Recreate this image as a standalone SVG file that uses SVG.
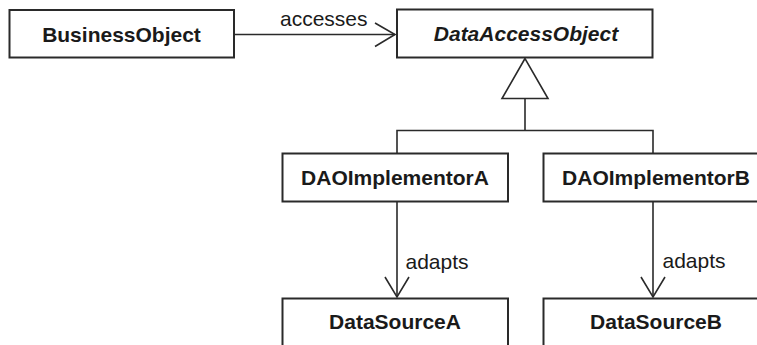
<svg xmlns="http://www.w3.org/2000/svg" width="757" height="345" viewBox="0 0 757 345">
<style>
.box{fill:#fff;stroke:#2a2a2a;stroke-width:2}
.t{font-family:"Liberation Sans",Arial,sans-serif;font-size:21px;font-weight:bold;fill:#1a1a1a;text-anchor:middle}
.i{font-style:italic}
.lbl{font-family:"Liberation Sans",Arial,sans-serif;font-size:21px;fill:#1a1a1a}
.ln{fill:none;stroke:#2a2a2a;stroke-width:1.6}
</style>
<rect width="757" height="345" fill="#fff"/>
<g id="connectors">
<line class="ln" x1="234" y1="34.5" x2="395" y2="34.5"/>
<polyline class="ln" points="375,23 395,34.5 375,46.5"/>
<text class="lbl" x="280" y="25.5">accesses</text>
<polygon class="ln" points="525,58.5 502,98.5 548,98.5" style="fill:#fff"/>
<polyline class="ln" points="525,98.5 525,130.5"/>
<polyline class="ln" points="397,153.5 397,130.5 653,130.5 653,153.5"/>
<line class="ln" x1="397" y1="202" x2="397" y2="297"/>
<polyline class="ln" points="385,277 397,297 409,277"/>
<text class="lbl" x="405.5" y="268.5">adapts</text>
<line class="ln" x1="653" y1="202" x2="653" y2="297"/>
<polyline class="ln" points="641,277 653,297 665,277"/>
<text class="lbl" x="662.5" y="267.5">adapts</text>
</g>
<g id="BusinessObject">
<rect class="box" x="9.5" y="10" width="224.5" height="47.5"/>
<text class="t" x="121.5" y="41.5">BusinessObject</text>
</g>
<g id="DataAccessObject">
<rect class="box" x="397" y="9.5" width="255.5" height="48"/>
<text class="t i" x="526" y="41">DataAccessObject</text>
</g>
<g id="DAOImplementorA">
<rect class="box" x="282.5" y="153.5" width="225.5" height="48"/>
<text class="t" x="395" y="185">DAOImplementorA</text>
</g>
<g id="DAOImplementorB">
<rect class="box" x="543.5" y="153.5" width="225.5" height="48"/>
<text class="t" x="656" y="185">DAOImplementorB</text>
</g>
<g id="DataSourceA">
<rect class="box" x="282.5" y="298.5" width="225.5" height="60"/>
<text class="t" x="395" y="328.5">DataSourceA</text>
</g>
<g id="DataSourceB">
<rect class="box" x="543.5" y="298.5" width="225.5" height="60"/>
<text class="t" x="656" y="328.5">DataSourceB</text>
</g>
</svg>
